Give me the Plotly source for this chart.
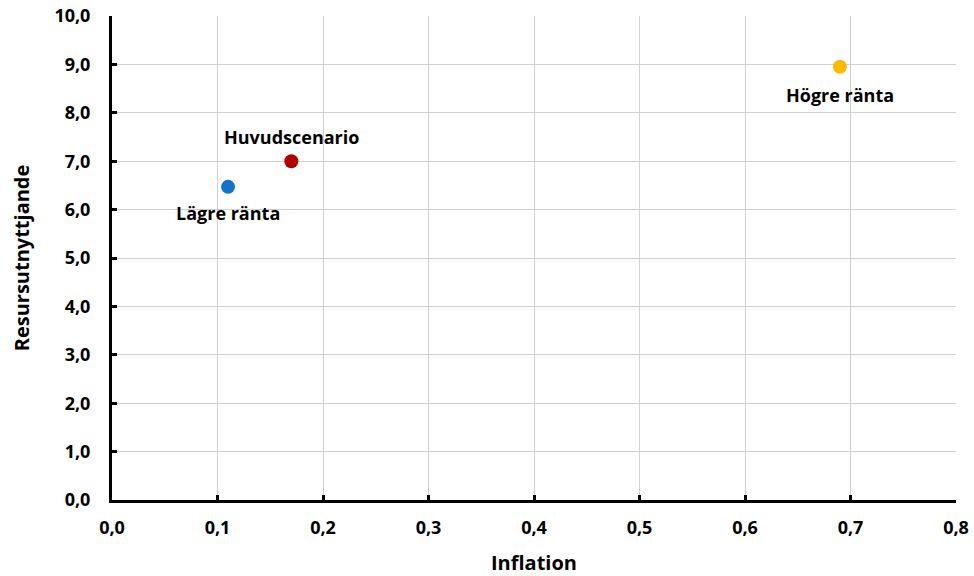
import plotly.graph_objects as go

names = ["Lägre ränta", "Huvudscenario", "Högre ränta"]
inflation = [0.11, 0.17, 0.69]
resurs = [6.47, 7.0, 8.95]
colors = ["#1273CE", "#B00000", "#FFBA00"]
label_shift = [-26, 24, -28]

FONT = "Open Sans"

fig = go.Figure()
for n, x, y, c in zip(names, inflation, resurs, colors):
    fig.add_trace(go.Scatter(
        x=[x], y=[y], mode="markers",
        marker=dict(size=14, color=c),
        showlegend=False, cliponaxis=False, name=n,
    ))
for n, x, y, s in zip(names, inflation, resurs, label_shift):
    fig.add_annotation(x=x, y=y, text=n, showarrow=False, yshift=s,
                       font=dict(family=FONT, size=18, color="black", weight="bold"))

axis_common = dict(
    showline=True, linecolor="black", linewidth=3,
    showgrid=True, gridcolor="#D0D0D0", gridwidth=1,
    zeroline=False, automargin=False,
    ticks="inside", ticklen=5, tickwidth=3, tickcolor="black",
    tickfont=dict(family=FONT, size=18, color="black", weight="bold"),
    tickformat=".1f",
)

fig.update_layout(
    width=974, height=576,
    margin=dict(l=112, r=18, t=16, b=76),
    plot_bgcolor="white", paper_bgcolor="white",
    separators=", ",
    xaxis=dict(range=[0, 0.8], dtick=0.1,
               title=dict(text="Inflation", font=dict(family=FONT, size=20, color="black", weight="bold"), standoff=20),
               ticklabelstandoff=9,
               **axis_common),
    yaxis=dict(range=[0, 10], dtick=1,
               title=dict(text="Resursutnyttjande", font=dict(family=FONT, size=20, color="black", weight="bold"), standoff=20),
               ticklabelstandoff=15,
               **axis_common),
)

fig.write_html("out.html")
